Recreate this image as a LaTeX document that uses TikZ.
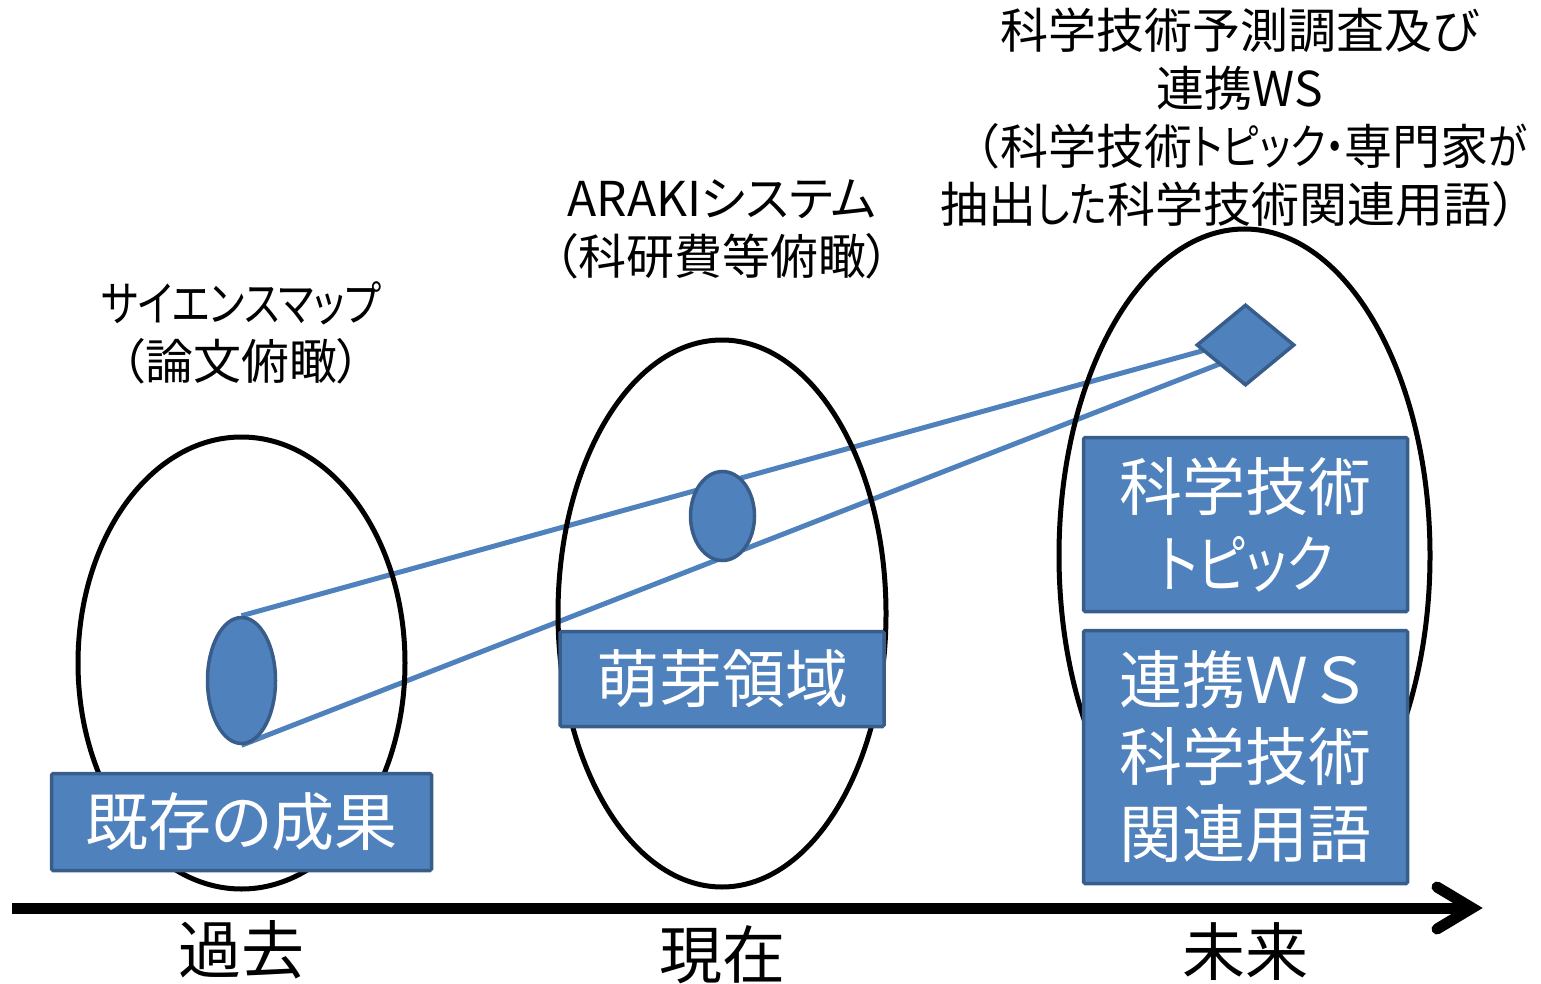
\documentclass[tikz,border=0pt]{standalone}
\usepackage{fontspec}
\setmainfont{Noto Sans CJK JP}[RawFeature=+palt]
\newfontfamily\jpfw{Noto Sans CJK JP}
\newfontfamily\kn{Noto Sans CJK JP}[RawFeature=+palt, FakeStretch=0.82]
\usetikzlibrary{shapes.geometric,calc}
\definecolor{boxblue}{HTML}{4F81BD}
\definecolor{boxedge}{HTML}{385D8A}
\pgfdeclarelayer{bg}
\pgfsetlayers{bg,main}
\begin{document}
\begin{tikzpicture}[x=1pt,y=-1pt,
  bigell/.style={draw=black, line width=5pt, ellipse, inner sep=0pt},
  smallell/.style={draw=boxedge, fill=boxblue, line width=3.5pt, ellipse, inner sep=0pt},
  link/.style={draw=boxblue, line width=5pt},
  bluebox/.style={draw=boxedge, fill=boxblue, line width=3.5pt, rounded corners=1.5pt,
    text=white, align=center, inner sep=0pt, font=\fontsize{63}{77}\selectfont},
  lbl/.style={text=black, align=center, inner sep=0pt, font=\fontsize{48}{58}\selectfont},
  axlbl/.style={text=black, inner sep=0pt, font=\fontsize{63}{75}\selectfont},
  axis/.style={draw=black, line width=11pt}
]
\useasboundingbox (0,0) rectangle (1541,984);

% big ellipses
\node[bigell, minimum width=327, minimum height=452] (e1) at (241.5,663) {};
\node[bigell, minimum width=328, minimum height=547] (e2) at (722,613.5) {};
\node[bigell, minimum width=371, minimum height=653] (e3) at (1244.5,555.5) {};

% small shapes
\node[smallell, minimum width=68, minimum height=126] (s1) at (241.5,680.5) {};
\node[smallell, minimum width=64, minimum height=89] (s2) at (722.5,516) {};
\node[diamond, draw=boxedge, fill=boxblue, line width=3.5pt, inner sep=0pt,
      minimum width=98, minimum height=81] (d) at (1245.5,345) {};

% connectors (behind)
\begin{pgfonlayer}{bg}
\coordinate (dt) at ($(d.center)+(7,-8)$);
\coordinate (db) at ($(d.center)+(-8,12)$);
\draw[link] (s1.north) -- (dt);
\draw[link] (s1.south) -- (db);
\end{pgfonlayer}

% boxes
\node[bluebox, minimum width=380, minimum height=97] (b1) at (241.5,822) {既存の成果};
\node[bluebox, minimum width=324, minimum height=95] (b2) at (722,679) {萌芽領域};
\node[bluebox, minimum width=324, minimum height=174] (b3) at (1245.5,524.5) {科学技術\\{\kn トピック}};
\node[bluebox, minimum width=324, minimum height=253] (b4) at (1245.5,757) {{\jpfw 連携ＷＳ}\\科学技術\\関連用語};

% labels
\node[lbl] (t1) at (241,333) {{\kn サイエンスマップ}\\（論文俯瞰）};
\node[lbl] (t2) at (722,229) {ARAKIシステム\\（科研費等俯瞰）};
\node[lbl] (t3) at (1240,118) {科学技術予測調査及び\\連携WS\\{\jpfw （}科学技術{\kn トピック・}専門家{\kn が}\\抽出{\kn した}科学技術関連用語{\jpfw ）}};

% axis
\coordinate (a0) at (12,908);
\coordinate (a1) at (1472,908);
\draw[axis] (a0) -- (a1);
\draw[axis, line cap=round, line join=miter] ($(a1)+(-35,-21)$) -- (a1) -- ($(a1)+(-35,21)$);

\node[axlbl] (p1) at (241,950) {過去};
\node[axlbl] (p2) at (722,955) {現在};
\node[axlbl] (p3) at (1245,952) {未来};
\end{tikzpicture}
\end{document}
